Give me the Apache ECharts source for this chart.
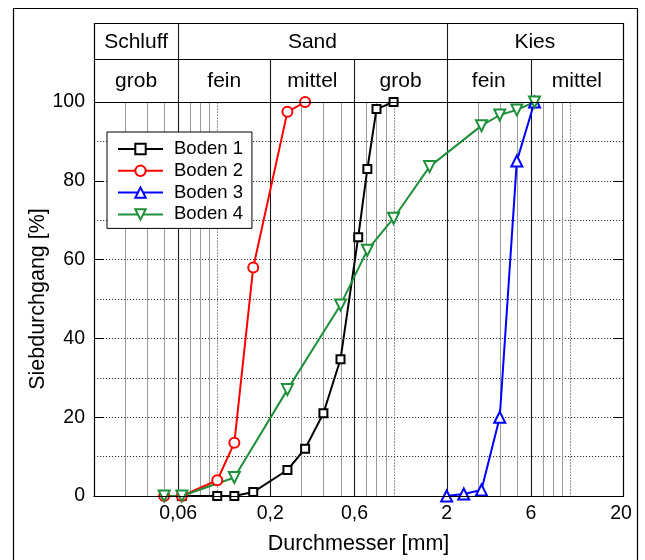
<!DOCTYPE html>
<html>
<head>
<meta charset="utf-8">
<script src="https://cdn.jsdelivr.net/npm/echarts@6/dist/echarts.min.js"></script>
<style>
  html, body { margin: 0; padding: 0; background: #fff; }
  #main { width: 645px; height: 560px; }
</style>
</head>
<body>
<div id="main"></div>
<script>
// Sieve analysis: grain size distribution curves of four soils
const FONT = '"Liberation Sans", Arial, Helvetica, sans-serif';

// [grain diameter in mm, percent passing]
const boden1 = [[0.063, 0], [0.1, 0], [0.125, 0], [0.16, 1], [0.25, 6.6], [0.315, 12], [0.4, 21], [0.5, 34.7], [0.63, 65.7], [0.71, 83], [0.8, 98.2], [1.0, 100]];
const boden2 = [[0.05, 0], [0.063, 0], [0.1, 4], [0.125, 13.5], [0.16, 58], [0.25, 97.5], [0.315, 100]];
const boden3 = [[2, 0], [2.5, 0.5], [3.15, 1.5], [4, 20], [5, 85], [6.3, 100]];
const boden4 = [[0.05, 0], [0.063, 0], [0.125, 4.7], [0.25, 27], [0.5, 48.5], [0.71, 62.4], [1.0, 70.5], [1.6, 83.6], [3.15, 94], [4, 96.7], [5, 98], [6.3, 100]];

const seriesNames = ['Boden 1', 'Boden 2', 'Boden 3', 'Boden 4'];
const seriesColors = ['#000000', '#ff0000', '#0000ff', '#1e8f3a'];

// x axis labels (mm) and grid
const xTickValues = [0.06, 0.2, 0.6, 2, 6, 20];
const xMin = 0.02, xMax = 20;
const minorGridValues = [0.03, 0.04, 0.05, 0.07, 0.08, 0.09, 0.3, 0.4, 0.5, 0.7, 0.8, 0.9, 3, 4, 5, 7, 8, 9];
const decadeGridValues = [0.1, 1, 10];

// soil fraction classification header
const mainFractions = [
  { name: 'Schluff', from: 0.02, to: 0.06 },
  { name: 'Sand', from: 0.06, to: 2 },
  { name: 'Kies', from: 2, to: 20 }
];
const subFractions = [
  { name: 'grob', from: 0.02, to: 0.06 },
  { name: 'fein', from: 0.06, to: 0.2 },
  { name: 'mittel', from: 0.2, to: 0.6 },
  { name: 'grob', from: 0.6, to: 2 },
  { name: 'fein', from: 2, to: 6 },
  { name: 'mittel', from: 6, to: 20 }
];

const chart = echarts.init(document.getElementById('main'), null, { renderer: 'canvas' });

function lineSeries(name, data, color, symbol, size, rotate) {
  return {
    type: 'line',
    name: name,
    data: data,
    symbol: symbol,
    symbolSize: size,
    symbolRotate: rotate || 0,
    color: color,
    lineStyle: { color: color, width: 2 },
    itemStyle: { color: color, borderColor: color, borderWidth: 1.3 },
    emphasis: { disabled: true },
    z: 3
  };
}

const option = {
  animation: false,
  backgroundColor: '#fff',
  grid: { left: 94, right: 22, top: 102, bottom: 63 },
  legend: {
    orient: 'vertical',
    left: 107,
    top: 132,
    backgroundColor: '#fff',
    borderColor: '#000',
    borderWidth: 1,
    borderRadius: 0,
    padding: [7, 9, 4, 10],
    itemWidth: 45,
    itemHeight: 13,
    itemGap: 1.8,
    textStyle: { fontFamily: FONT, fontSize: 18.5, color: '#000', lineHeight: 20, padding: [0, 0, 0, 6] },
    data: seriesNames
  },
  xAxis: {
    type: 'log',
    logBase: 10,
    min: xMin,
    max: xMax,
    axisLine: { show: true, lineStyle: { color: '#000', width: 1 } },
    axisTick: { show: false },
    axisLabel: { show: false },
    splitLine: { show: false },
    name: 'Durchmesser [mm]',
    nameLocation: 'middle',
    nameMoveOverlap: false,
    nameGap: 37,
    nameTextStyle: { fontFamily: FONT, fontSize: 21.5, color: '#000' }
  },
  yAxis: [
    {
      type: 'value',
      min: 0,
      max: 100,
      interval: 20,
      axisLine: { show: true, lineStyle: { color: '#000', width: 1 } },
      axisTick: { show: true, inside: true, length: 10, lineStyle: { color: '#000' } },
      axisLabel: { fontFamily: FONT, fontSize: 19.5, color: '#000', margin: 9 },
      splitLine: { show: true, lineStyle: { color: '#333', type: [1.2, 1.8], width: 1 } },
      minorTick: { show: false, splitNumber: 2 },
      minorSplitLine: { show: true, lineStyle: { color: '#333', type: [1.2, 1.8], width: 1 } },
      name: 'Siebdurchgang [%]',
      nameLocation: 'middle',
      nameMoveOverlap: false,
      nameGap: 45,
      nameRotate: 90,
      nameTextStyle: { fontFamily: FONT, fontSize: 21.5, color: '#000' }
    },
    {
      type: 'value',
      position: 'right',
      min: 0,
      max: 100,
      interval: 20,
      axisLine: { show: false },
      axisTick: { show: true, inside: true, length: 10, lineStyle: { color: '#000' } },
      axisLabel: { show: false },
      splitLine: { show: false }
    }
  ],
  series: [
    lineSeries(seriesNames[0], boden1, seriesColors[0], 'emptyRect', 8),
    lineSeries(seriesNames[1], boden2, seriesColors[1], 'emptyCircle', 10),
    lineSeries(seriesNames[2], boden3, seriesColors[2], 'emptyTriangle', 11),
    lineSeries(seriesNames[3], boden4, seriesColors[3], 'emptyTriangle', 11, 180)
  ]
};

chart.setOption(option);

// Grid lines, classification header and x labels positioned through the axis scales
function toPx(x, y) {
  return chart.convertToPixel({ xAxisIndex: 0, yAxisIndex: 0 }, [x, y]);
}
function crisp(v) { return Math.round(v) + 0.5; }

const [xLeft, yBottom] = toPx(xMin, 0);
const [xRight, yTop] = toPx(xMax, 100);
const headerTop = crisp(yTop - 79);
const headerMid = crisp(yTop - 43);
const plotTop = crisp(yTop);
const plotBottom = crisp(yBottom);

const graphics = [];

function vLine(v, y1, y2, stroke, width, dash, z) {
  const x = crisp(toPx(v, 0)[0]);
  graphics.push({
    type: 'line', silent: true, z: z,
    shape: { x1: x, y1: y1, x2: x, y2: y2 },
    style: { stroke: stroke, lineWidth: width, lineDash: dash || null }
  });
}

minorGridValues.forEach(v => vLine(v, plotTop, plotBottom, '#9a9a9a', 1, null, 0));
decadeGridValues.forEach(v => vLine(v, plotTop, plotBottom, '#555', 1, [1.2, 1.8], 0));

// fraction boundaries: sub boundaries start at the middle header row, main ones at the top
const mainBounds = mainFractions.slice(1).map(f => f.from);
subFractions.slice(1).forEach(f => {
  const startY = mainBounds.indexOf(f.from) >= 0 ? headerTop : headerMid;
  vLine(f.from, startY, plotBottom, '#1a1a1a', 1.1, null, 1);
});

// header frame
graphics.push({
  type: 'rect', silent: true, z: 5,
  shape: { x: crisp(xLeft), y: headerTop, width: Math.round(xRight - xLeft), height: plotTop - headerTop },
  style: { fill: null, stroke: '#000', lineWidth: 1.2 }
});
graphics.push({
  type: 'line', silent: true, z: 5,
  shape: { x1: crisp(xLeft), y1: headerMid, x2: crisp(xRight), y2: headerMid },
  style: { stroke: '#000', lineWidth: 1.1 }
});
// plot frame
graphics.push({
  type: 'rect', silent: true, z: 5,
  shape: { x: crisp(xLeft), y: plotTop, width: Math.round(xRight - xLeft), height: plotBottom - plotTop },
  style: { fill: null, stroke: '#000', lineWidth: 1.2 }
});

function headerText(list, cy) {
  list.forEach(f => {
    const cx = (toPx(f.from, 0)[0] + toPx(f.to, 0)[0]) / 2;
    graphics.push({
      type: 'text', silent: true, z: 6,
      x: cx, y: cy,
      style: { text: f.name, fontFamily: FONT, fontSize: 21, fill: '#000', align: 'center', verticalAlign: 'middle' }
    });
  });
}
headerText(mainFractions, (headerTop + headerMid) / 2 + 1);
headerText(subFractions, (headerMid + plotTop) / 2);

// x axis tick labels with decimal comma
xTickValues.forEach(v => {
  const x = toPx(v, 0)[0];
  graphics.push({
    type: 'text', silent: true, z: 6,
    x: v === xMax ? x - 2 : x, y: yBottom + 18,
    style: { text: String(v).replace('.', ','), fontFamily: FONT, fontSize: 19.5, fill: '#000', align: 'center', verticalAlign: 'middle' }
  });
});

// outer figure frame
graphics.push({
  type: 'rect', silent: true, z: 6,
  shape: { x: 13.5, y: 8.5, width: 624, height: 620 },
  style: { fill: null, stroke: '#000', lineWidth: 1.2 }
});

chart.setOption({ graphic: graphics });
</script>
</body>
</html>
